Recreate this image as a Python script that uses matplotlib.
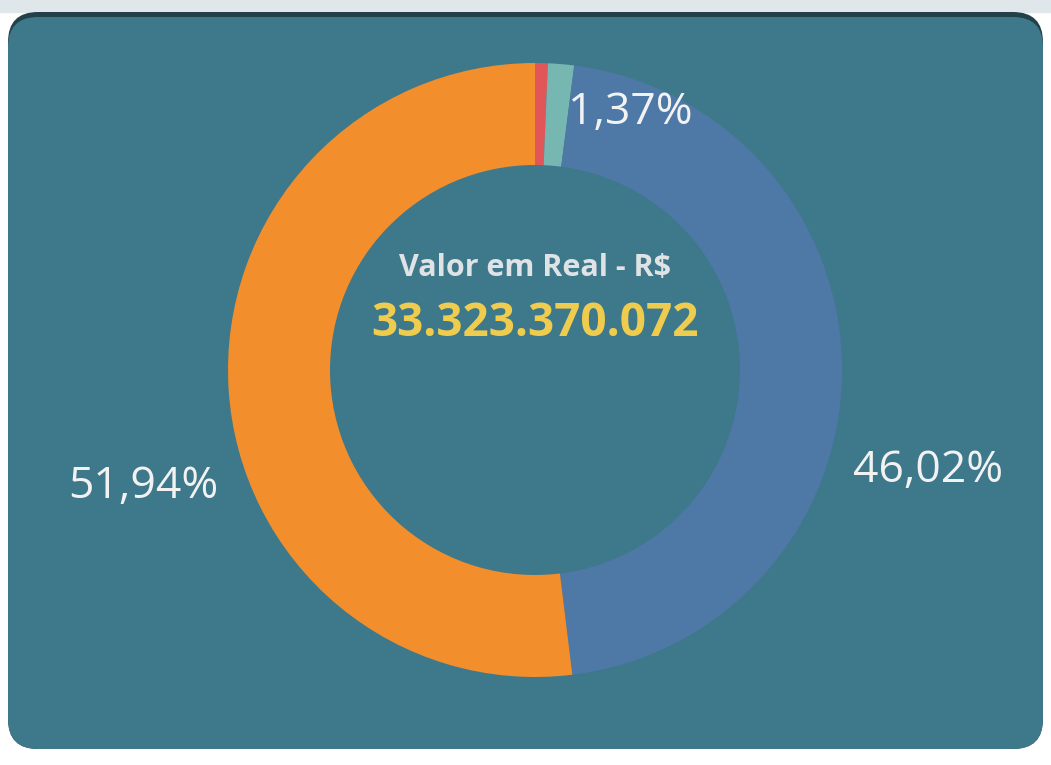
import numpy as np
import matplotlib
import matplotlib.pyplot as plt
from matplotlib.patches import FancyBboxPatch, Rectangle

# dados do grafico (sentido horario a partir do topo)
categorias = ['Outros', 'Misto', 'Azul', 'Laranja']
percentuais = [0.67, 1.37, 46.02, 51.94]
cores = ['#e15759', '#76b7b2', '#4e79a7', '#f28e2b']
rotulos = ['', '1,37%', '46,02%', '51,94%']
titulo = 'Valor em Real - R$'
total = '33.323.370.072'

W, H = 1051, 765
fundo = '#3e788b'

matplotlib.rcParams.update({'font.family': ['Open Sans', 'DejaVu Sans']})

fig = plt.figure(figsize=(W / 100, H / 100), dpi=100, facecolor='white')
ax = fig.add_axes([0, 0, 1, 1])

# faixa clara no topo e sombra do cartao
ax.add_patch(Rectangle((0, H - 12), W, 12, color='#dfe7eb', zorder=0))
ax.add_patch(FancyBboxPatch((8, 16), W - 16, H - 28,
                            boxstyle='round,pad=0,rounding_size=30',
                            fc='#24414b', ec='none', zorder=1))
ax.add_patch(FancyBboxPatch((8, 16), W - 16, H - 33,
                            boxstyle='round,pad=0,rounding_size=30',
                            fc=fundo, ec='none', zorder=2))

cx, cy, r = 535, H - 370, 307
wedges, _ = ax.pie(percentuais, colors=cores, startangle=90, counterclock=False,
                   radius=r, center=(cx, cy), frame=True,
                   wedgeprops=dict(width=102, edgecolor='none'))
for w in wedges:
    w.set_zorder(3)
ax.set_xlim(0, W)
ax.set_ylim(0, H)
ax.set_aspect('auto')
ax.axis('off')

# rotulos de percentual
pos = {'1,37%': (630, 113), '46,02%': (928, 471), '51,94%': (143, 487)}
for txt in rotulos:
    if txt:
        x, y = pos[txt]
        ax.text(x, H - y, txt, color='#f2f2f2', fontsize=32,
                ha='center', va='center', zorder=5)

ax.text(cx, H - 268, titulo, color='#dfe3e6', fontsize=22, fontweight='bold',
        ha='center', va='center', zorder=5)
ax.text(cx, H - 323, total, color='#f0cc4e', fontsize=33, fontweight='bold',
        ha='center', va='center', zorder=5)

fig.savefig('out.png', dpi=100, facecolor='white')
